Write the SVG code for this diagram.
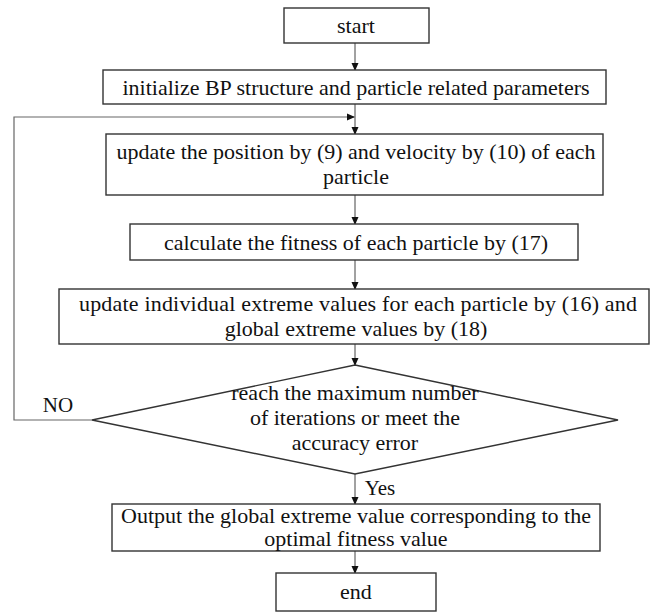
<svg xmlns="http://www.w3.org/2000/svg" width="657" height="616" viewBox="0 0 657 616">
<defs>
<style>
.box{fill:#fff;stroke:#333;stroke-width:1.4}
.t{font-family:'Liberation Serif',serif;font-size:22px;fill:#111;text-anchor:middle}
.l{font-family:'Liberation Serif',serif;font-size:21px;fill:#111;text-anchor:middle}
.c{fill:none;stroke:#444;stroke-width:1}
.f{fill:none;stroke:#666;stroke-width:1.2}
</style>
<marker id="a" markerWidth="8" markerHeight="8" refX="7" refY="4" orient="auto" markerUnits="userSpaceOnUse">
<path d="M0,0.5 L8,4 L0,7.5 z" fill="#111"/>
</marker>
</defs>
<rect width="657" height="616" fill="#fff"/>
<g id="connectors">
<line class="c" x1="355" y1="43" x2="355" y2="70" marker-end="url(#a)"/>
<line class="c" x1="355" y1="104" x2="355" y2="134" marker-end="url(#a)"/>
<polyline class="f" points="92,420 14,420 14,117 354,117" marker-end="url(#a)"/>
<line class="c" x1="355" y1="195" x2="355" y2="224" marker-end="url(#a)"/>
<line class="c" x1="355" y1="260" x2="355" y2="289" marker-end="url(#a)"/>
<line class="c" x1="355" y1="344" x2="355" y2="365" marker-end="url(#a)"/>
<line class="c" x1="355" y1="474" x2="355" y2="504" marker-end="url(#a)"/>
<line class="c" x1="355" y1="551" x2="355" y2="573" marker-end="url(#a)"/>
<text class="l" x="58" y="412">NO</text>
<text class="l" x="380" y="495">Yes</text>
</g>
<g id="start"><rect class="box" x="284" y="8" width="145" height="35"/><text class="t" x="356" y="33">start</text></g>
<g id="init"><rect class="box" x="103" y="70" width="503" height="34"/><text class="t" x="356" y="94.5">initialize BP structure and particle related parameters</text></g>
<g id="update"><rect class="box" x="106" y="134" width="497" height="61"/><text class="t" x="356" y="159">update the position by (9) and velocity by (10) of each</text><text class="t" x="356" y="184">particle</text></g>
<g id="calc"><rect class="box" x="130" y="224" width="448" height="36"/><text class="t" x="356" y="249.5">calculate the fitness of each particle by (17)</text></g>
<g id="extreme"><rect class="box" x="59" y="289" width="590" height="55"/><text class="t" x="358" y="311" textLength="558" lengthAdjust="spacing">update individual extreme values for each particle by (16) and</text><text class="t" x="356" y="336">global extreme values by (18)</text></g>
<g id="decision"><polygon class="box" points="355,365 618,420 355,474 92,420"/><text class="t" x="355" y="400">reach the maximum number</text><text class="t" x="355" y="425">of iterations or meet the</text><text class="t" x="355" y="450">accuracy error</text></g>
<g id="output"><rect class="box" x="112" y="504" width="488" height="47"/><text class="t" x="356" y="522.5">Output the global extreme value corresponding to the</text><text class="t" x="356" y="546">optimal fitness value</text></g>
<g id="end"><rect class="box" x="276" y="573" width="160" height="38"/><text class="t" x="356" y="599">end</text></g>
</svg>
